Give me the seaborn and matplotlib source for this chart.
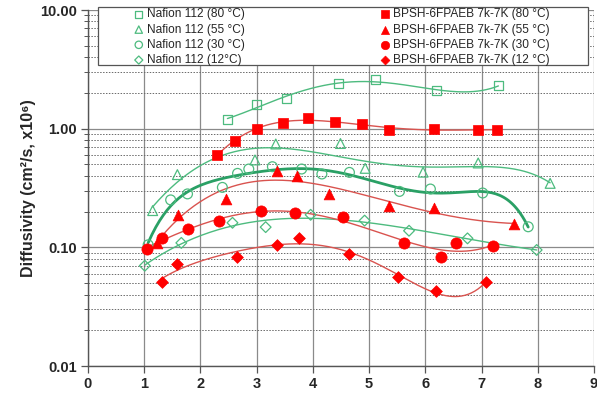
import numpy as np
import pandas as pd
import matplotlib
matplotlib.use("Agg")
import matplotlib.pyplot as plt
import seaborn as sns
from matplotlib.patches import Rectangle
from matplotlib.ticker import FixedLocator, LogLocator, NullFormatter, FuncFormatter

# ---------------- data ----------------
naf80_x = [2.48, 3.00, 3.53, 4.46, 5.11, 6.19, 7.30]
naf80_y = [1.19, 1.61, 1.78, 2.38, 2.59, 2.09, 2.30]

naf55_x = [1.15, 1.59, 2.97, 3.34, 4.49, 4.93, 5.96, 6.94, 8.22]
naf55_y = [0.204, 0.41, 0.545, 0.743, 0.75, 0.463, 0.43, 0.514, 0.346]

naf30_x = [1.07, 1.47, 1.77, 2.39, 2.66, 2.86, 3.28, 3.80, 4.16, 4.65, 5.54, 6.09, 7.02, 7.83]
naf30_y = [0.105, 0.251, 0.282, 0.32, 0.42, 0.457, 0.478, 0.457, 0.415, 0.428, 0.296, 0.31, 0.287, 0.149]

naf12_x = [1.01, 1.66, 2.57, 3.16, 3.96, 4.92, 5.71, 6.75, 7.98]
naf12_y = [0.070, 0.109, 0.161, 0.148, 0.188, 0.168, 0.138, 0.119, 0.095]

bp80_x = [2.29, 2.62, 3.01, 3.47, 3.91, 4.40, 4.87, 5.35, 6.15, 6.93, 7.27]
bp80_y = [0.60, 0.79, 1.00, 1.12, 1.24, 1.13, 1.09, 0.975, 1.00, 0.98, 0.975]

bp55_x = [1.22, 1.60, 2.46, 3.36, 3.72, 4.29, 5.36, 6.15, 7.58]
bp55_y = [0.108, 0.187, 0.256, 0.443, 0.40, 0.282, 0.224, 0.213, 0.157]

bp30_x = [1.05, 1.32, 1.78, 2.33, 3.07, 3.69, 4.53, 5.62, 6.27, 6.54, 7.20]
bp30_y = [0.097, 0.12, 0.143, 0.168, 0.201, 0.194, 0.179, 0.109, 0.0835, 0.109, 0.102]

bp12_x = [1.31, 1.59, 2.65, 3.36, 3.75, 4.64, 5.51, 6.19, 7.08]
bp12_y = [0.0507, 0.0725, 0.0824, 0.105, 0.12, 0.088, 0.056, 0.0432, 0.0507]

naf_labels = ["Nafion 112 (80 °C)", "Nafion 112 (55 °C)", "Nafion 112 (30 °C)", "Nafion 112 (12°C)"]
bp_labels = ["BPSH-6FPAEB 7k-7K (80 °C)", "BPSH-6FPAEB 7k-7K (55 °C)",
             "BPSH-6FPAEB 7k-7K (30 °C)", "BPSH-6FPAEB 7k-7K (12 °C)"]

x_ticks = [0, 1, 2, 3, 4, 5, 6, 7, 8, 9]
y_ticks = [0.01, 0.1, 1, 10]
y_tick_labels = ["0.01", "0.10", "1.00", "10.00"]
y_label = "Diffusivity (cm²/s, x10⁶)"

# ---------------- style ----------------
sns.set_style("white")
plt.rcParams["font.family"] = ["Liberation Sans", "DejaVu Sans"]

GREEN = "#4dbb7f"
GREEN_DARK = "#2aa065"
RED = "#ff0000"
RED_LINE = "#d9534f"

fig = plt.figure(figsize=(5.97, 3.96), dpi=100)
ax = fig.add_axes([88 / 597, 1 - 366 / 396, 506 / 597, 356 / 396])
ax.set_yscale("log")
ax.set_xlim(0, 9)
ax.set_ylim(0.01, 10)

# grid
ax.set_axisbelow(True)
ax.xaxis.set_major_locator(FixedLocator(x_ticks))
ax.yaxis.set_major_locator(FixedLocator(y_ticks))
ax.yaxis.set_minor_locator(LogLocator(base=10, subs=np.arange(2, 10)))
ax.yaxis.set_minor_formatter(NullFormatter())
ax.yaxis.set_major_formatter(FuncFormatter(lambda v, p: y_tick_labels[y_ticks.index(v)] if v in y_ticks else ""))
ax.grid(which="major", axis="x", color="#8a8a8a", lw=0.9, ls="-")
ax.grid(which="major", axis="y", color="#8a8a8a", lw=0.9, ls="-")
ax.grid(which="minor", axis="y", color="#6a6a6a", lw=0.7, ls=(0, (1.5, 1.5)))

for s in ["top", "right"]:
    ax.spines[s].set_visible(False)
for s in ["left", "bottom"]:
    ax.spines[s].set_color("#555555")
    ax.spines[s].set_linewidth(1.0)

ax.tick_params(axis="both", which="major", direction="out", length=5, width=0.9,
               color="#555555", labelsize=10.5, pad=3, left=True, bottom=True)
ax.tick_params(axis="y", which="minor", direction="out", length=3, width=0.7,
               color="#555555", left=True)
for lab in ax.get_xticklabels() + ax.get_yticklabels():
    lab.set_fontweight("bold")

ax.set_ylabel(y_label, fontsize=11.5, fontweight="bold")
ax.yaxis.set_label_coords(-0.102, 0.5)
ax.set_xlabel("")


def trend(xs, ys, deg, color, lw):
    xs = np.asarray(xs)
    coef = np.polyfit(xs, np.log10(ys), deg)
    xf = np.linspace(xs.min(), xs.max(), 200)
    yf = 10 ** np.polyval(coef, xf)
    sns.lineplot(x=xf, y=yf, color=color, lw=lw, ax=ax, zorder=2, legend=False)


# trend lines
trend(naf80_x, naf80_y, 4, GREEN, 1.0)
trend(naf55_x, naf55_y, 5, GREEN, 1.0)
trend(naf30_x, naf30_y, 6, GREEN_DARK, 2.0)
trend(naf12_x, naf12_y, 4, GREEN, 1.0)
trend(bp80_x, bp80_y, 4, RED_LINE, 1.0)
trend(bp55_x, bp55_y, 4, RED_LINE, 1.0)
trend(bp30_x, bp30_y, 5, RED_LINE, 1.0)
trend(bp12_x, bp12_y, 5, RED_LINE, 1.0)

# markers: Nafion (open, green)
open_series = [(naf80_x, naf80_y, "s", 42), (naf55_x, naf55_y, "^", 50),
               (naf30_x, naf30_y, "o", 50), (naf12_x, naf12_y, "D", 30)]
for (xs, ys, m, sz), lab in zip(open_series, naf_labels):
    sns.scatterplot(x=xs, y=ys, marker=m, s=sz, facecolor="none", edgecolor=GREEN,
                    linewidth=0.9, ax=ax, zorder=3, label=lab)

filled_series = [(bp80_x, bp80_y, "s", 50), (bp55_x, bp55_y, "^", 60),
                 (bp30_x, bp30_y, "o", 65), (bp12_x, bp12_y, "D", 36)]
for (xs, ys, m, sz), lab in zip(filled_series, bp_labels):
    sns.scatterplot(x=xs, y=ys, marker=m, s=sz, color=RED, edgecolor=RED,
                    linewidth=0.5, ax=ax, zorder=4, label=lab)

handles, labels = ax.get_legend_handles_labels()
if ax.get_legend() is not None:
    ax.get_legend().remove()

# legend frame
frame = Rectangle((97.7 / 597, 1 - 65 / 396), 490.3 / 597, 58.3 / 396,
                  transform=fig.transFigure, facecolor="white", edgecolor="#555555",
                  lw=0.9, zorder=4.5, clip_on=False)
ax.add_patch(frame)

leg_kw = dict(frameon=False, fontsize=8.6, handlelength=0.8, handletextpad=0.3,
              labelspacing=0.27, borderpad=0, borderaxespad=0, markerscale=0.75,
              loc="upper left", bbox_transform=fig.transFigure)
leg1 = ax.legend(handles[:4], labels[:4], bbox_to_anchor=(134 / 597, 1 - 8.5 / 396), **leg_kw)
leg1.set_zorder(6)
ax.add_artist(leg1)
leg2 = ax.legend(handles[4:], labels[4:], bbox_to_anchor=(380 / 597, 1 - 8.5 / 396), **leg_kw)
leg2.set_zorder(6)

fig.savefig("out.png", dpi=100)
